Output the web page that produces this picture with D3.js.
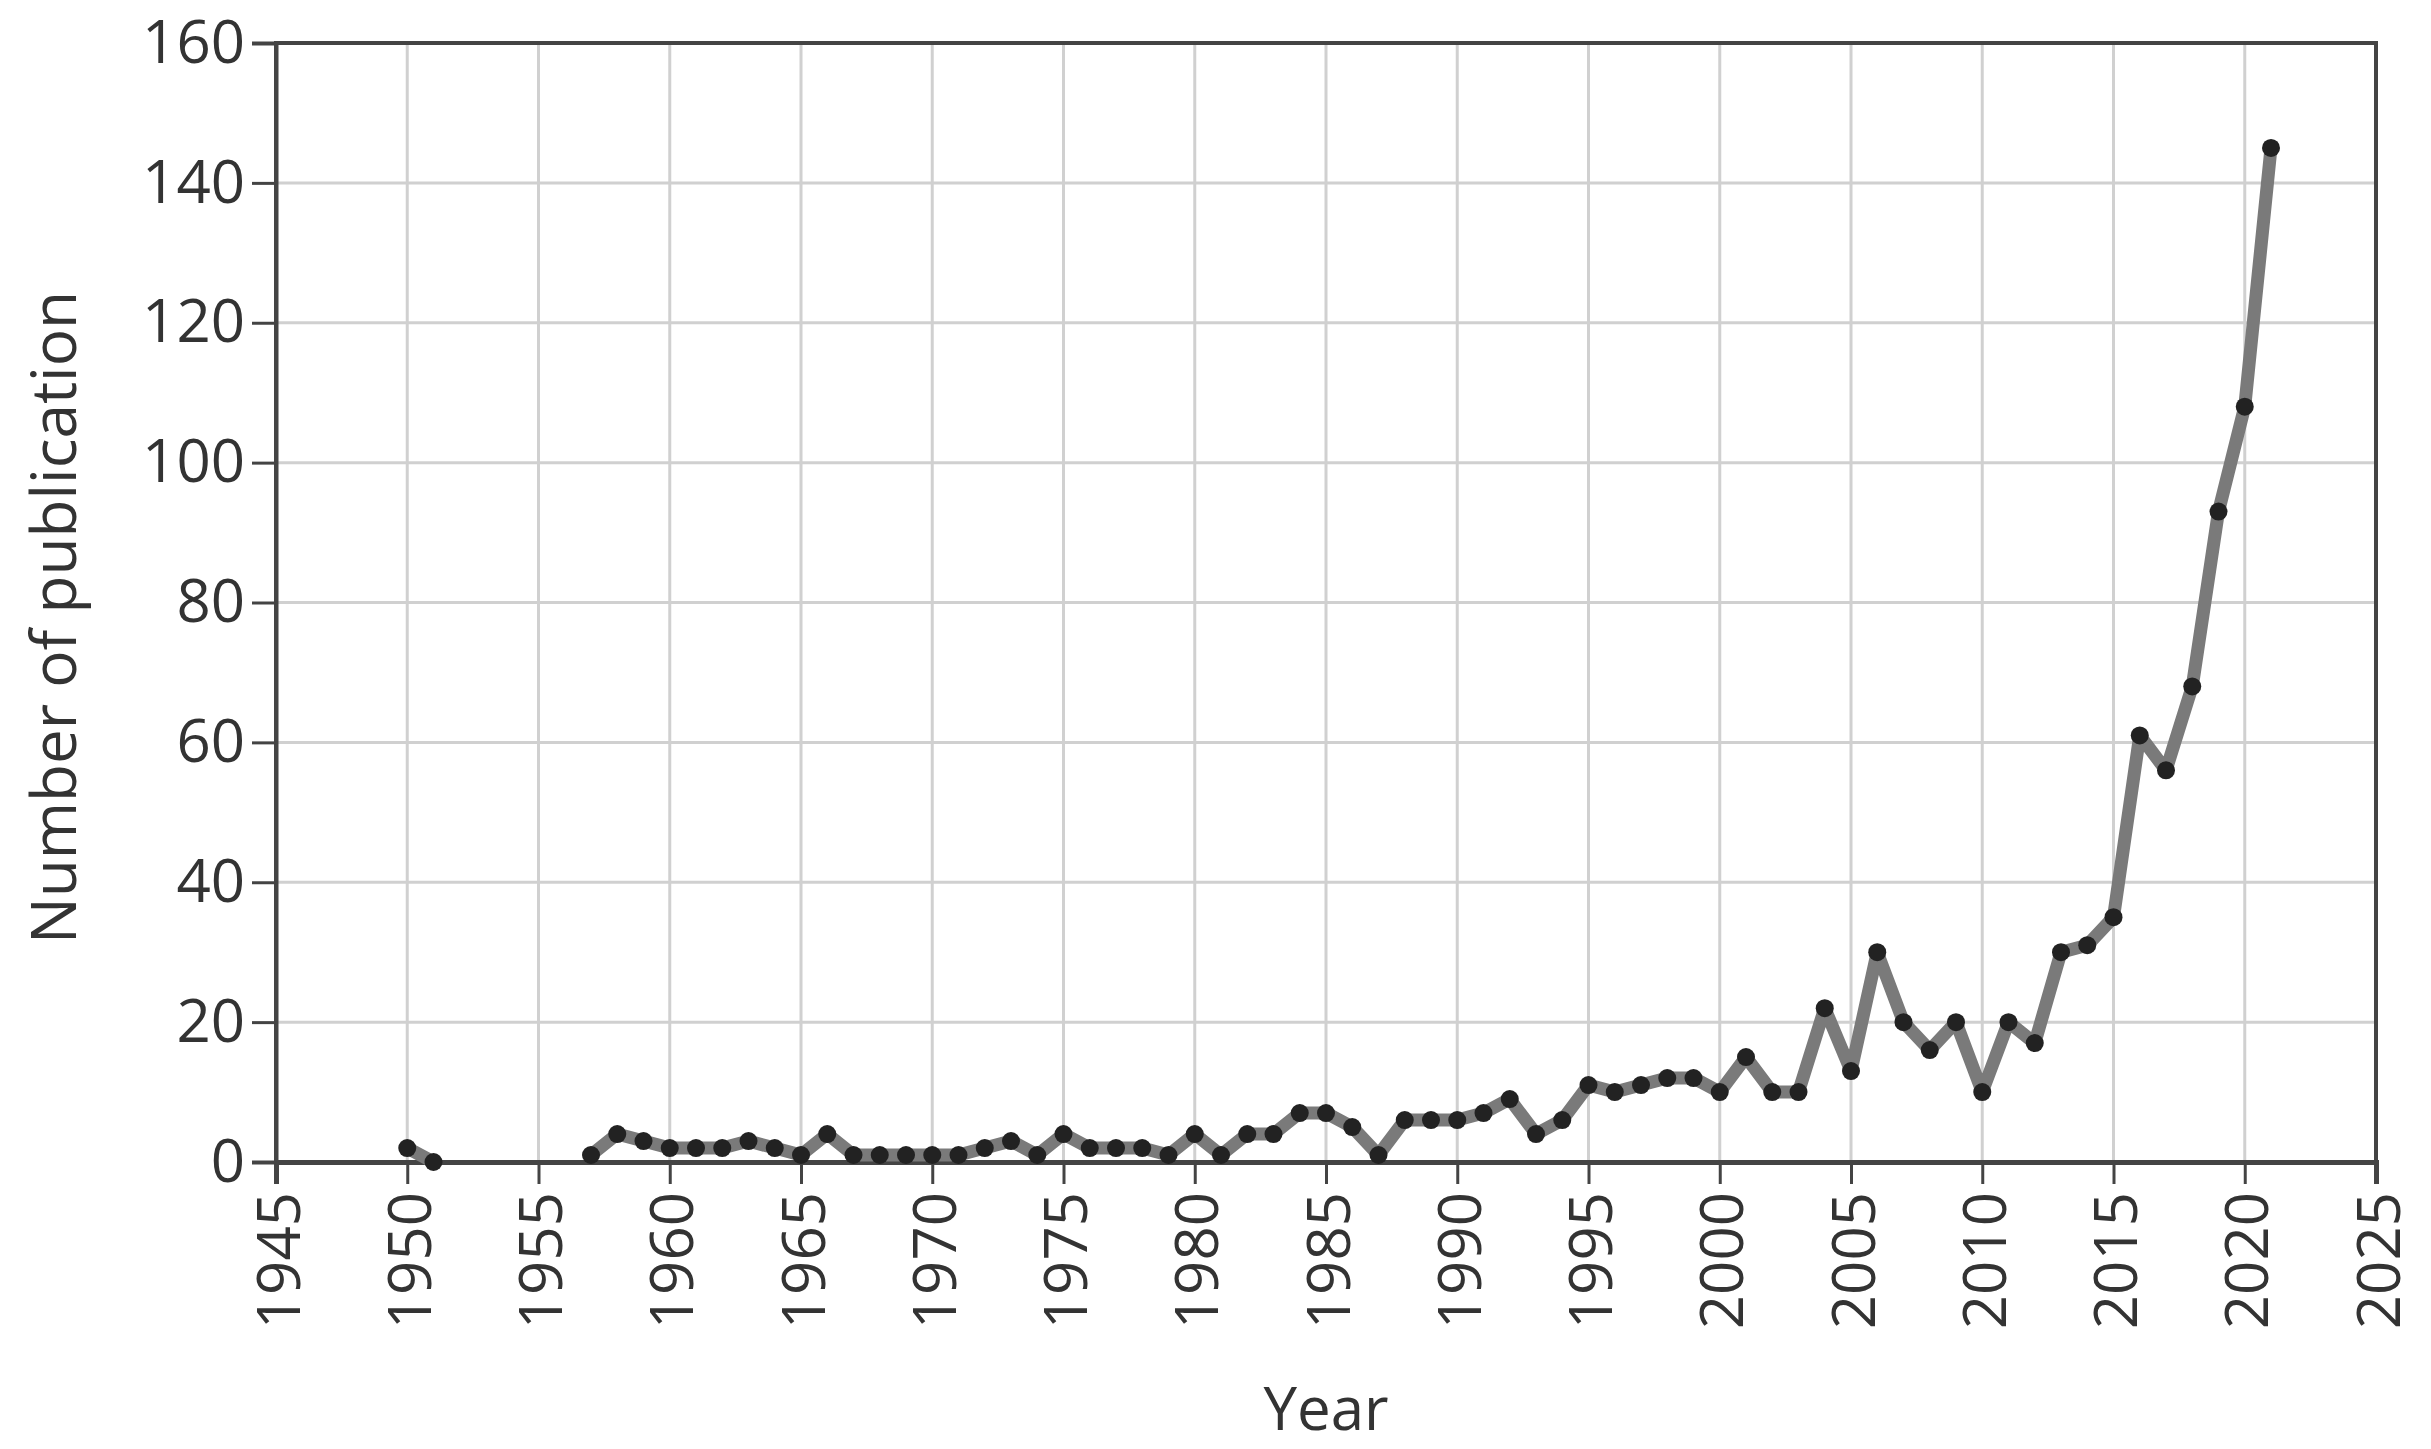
<!DOCTYPE html>
<html><head><meta charset="utf-8">
<script src="https://cdn.jsdelivr.net/npm/d3@7"></script>
<style>body{margin:0;background:#fff}svg{display:block}</style>
</head><body>
<script>
const years = [1950,1951,1952,1953,1954,1955,1956,1957,1958,1959,1960,1961,1962,1963,1964,1965,1966,1967,1968,1969,1970,1971,1972,1973,1974,1975,1976,1977,1978,1979,1980,1981,1982,1983,1984,1985,1986,1987,1988,1989,1990,1991,1992,1993,1994,1995,1996,1997,1998,1999,2000,2001,2002,2003,2004,2005,2006,2007,2008,2009,2010,2011,2012,2013,2014,2015,2016,2017,2018,2019,2020,2021];
const counts = [2,0,null,null,null,null,null,1,4,3,2,2,2,3,2,1,4,1,1,1,1,1,2,3,1,4,2,2,2,1,4,1,4,4,7,7,5,1,6,6,6,7,9,4,6,11,10,11,12,12,10,15,10,10,22,13,30,20,16,20,10,20,17,30,31,35,61,56,68,93,108,145];
const xTicks = [1945,1950,1955,1960,1965,1970,1975,1980,1985,1990,1995,2000,2005,2010,2015,2020,2025];
const yTicks = [0,20,40,60,80,100,120,140,160];

const W=2431,H=1449, L=276, R=2376, T=43, B=1162;
const svg=d3.select("body").append("svg").attr("width",W).attr("height",H);
const x=d3.scaleLinear().domain([1945,2025]).range([L,R]);
const y=d3.scaleLinear().domain([0,160]).range([B,T]);
const font="'Open Sans', 'DejaVu Sans', sans-serif";

const grid=svg.append("g").attr("stroke","#d0d0d0").attr("stroke-width",3);
xTicks.forEach(t=>grid.append("line").attr("x1",x(t)).attr("x2",x(t)).attr("y1",T).attr("y2",B));
yTicks.forEach(t=>grid.append("line").attr("x1",L).attr("x2",R).attr("y1",y(t)).attr("y2",y(t)));
svg.append("rect").attr("x",L).attr("y",T).attr("width",R-L).attr("height",B-T).attr("fill","none").attr("stroke","#444").attr("stroke-width",4);

const xa=svg.append("g").attr("transform",`translate(0,${B})`).call(d3.axisBottom(x).tickValues(xTicks).tickFormat(d3.format("d")).tickSize(22));
xa.select(".domain").attr("stroke","#444").attr("stroke-width",5);
xa.selectAll(".tick line").attr("stroke","#444").attr("stroke-width",3);
xa.selectAll("text").attr("font-family",font).attr("font-size",60).attr("fill","#333")
  .attr("transform","rotate(-90)").attr("text-anchor","end").attr("dx",-30).attr("dy",0).attr("x",0).attr("y",0).style("dominant-baseline","central");

const ya=svg.append("g").attr("transform",`translate(${L},0)`).call(d3.axisLeft(y).tickValues(yTicks).tickSize(24));
ya.select(".domain").attr("stroke","#444").attr("stroke-width",4);
ya.selectAll(".tick line").attr("stroke","#444").attr("stroke-width",3);
ya.selectAll("text").attr("font-family",font).attr("font-size",60).attr("fill","#333").attr("dx",-4);

svg.append("text").attr("x",(L+R)/2).attr("y",1430).attr("text-anchor","middle").attr("font-family",font).attr("font-size",60).attr("fill","#333").text("Year");
svg.append("text").attr("transform",`translate(76,${(T+B)/2+15}) rotate(-90)`).attr("text-anchor","middle").attr("font-family",font).attr("font-size",62).attr("fill","#333").text("Number of publication");

const data=years.map((yr,i)=>({yr,v:counts[i]}));
svg.append("path").datum(data).attr("fill","none").attr("stroke","#7a7a7a").attr("stroke-width",13).attr("stroke-linejoin","round")
  .attr("d",d3.line().defined(d=>d.v!==null).x(d=>x(d.yr)).y(d=>y(d.v)));
svg.append("g").selectAll("circle").data(data.filter(d=>d.v!==null)).join("circle")
  .attr("cx",d=>x(d.yr)).attr("cy",d=>y(d.v)).attr("r",9).attr("fill","#222");
</script>
</body></html>
